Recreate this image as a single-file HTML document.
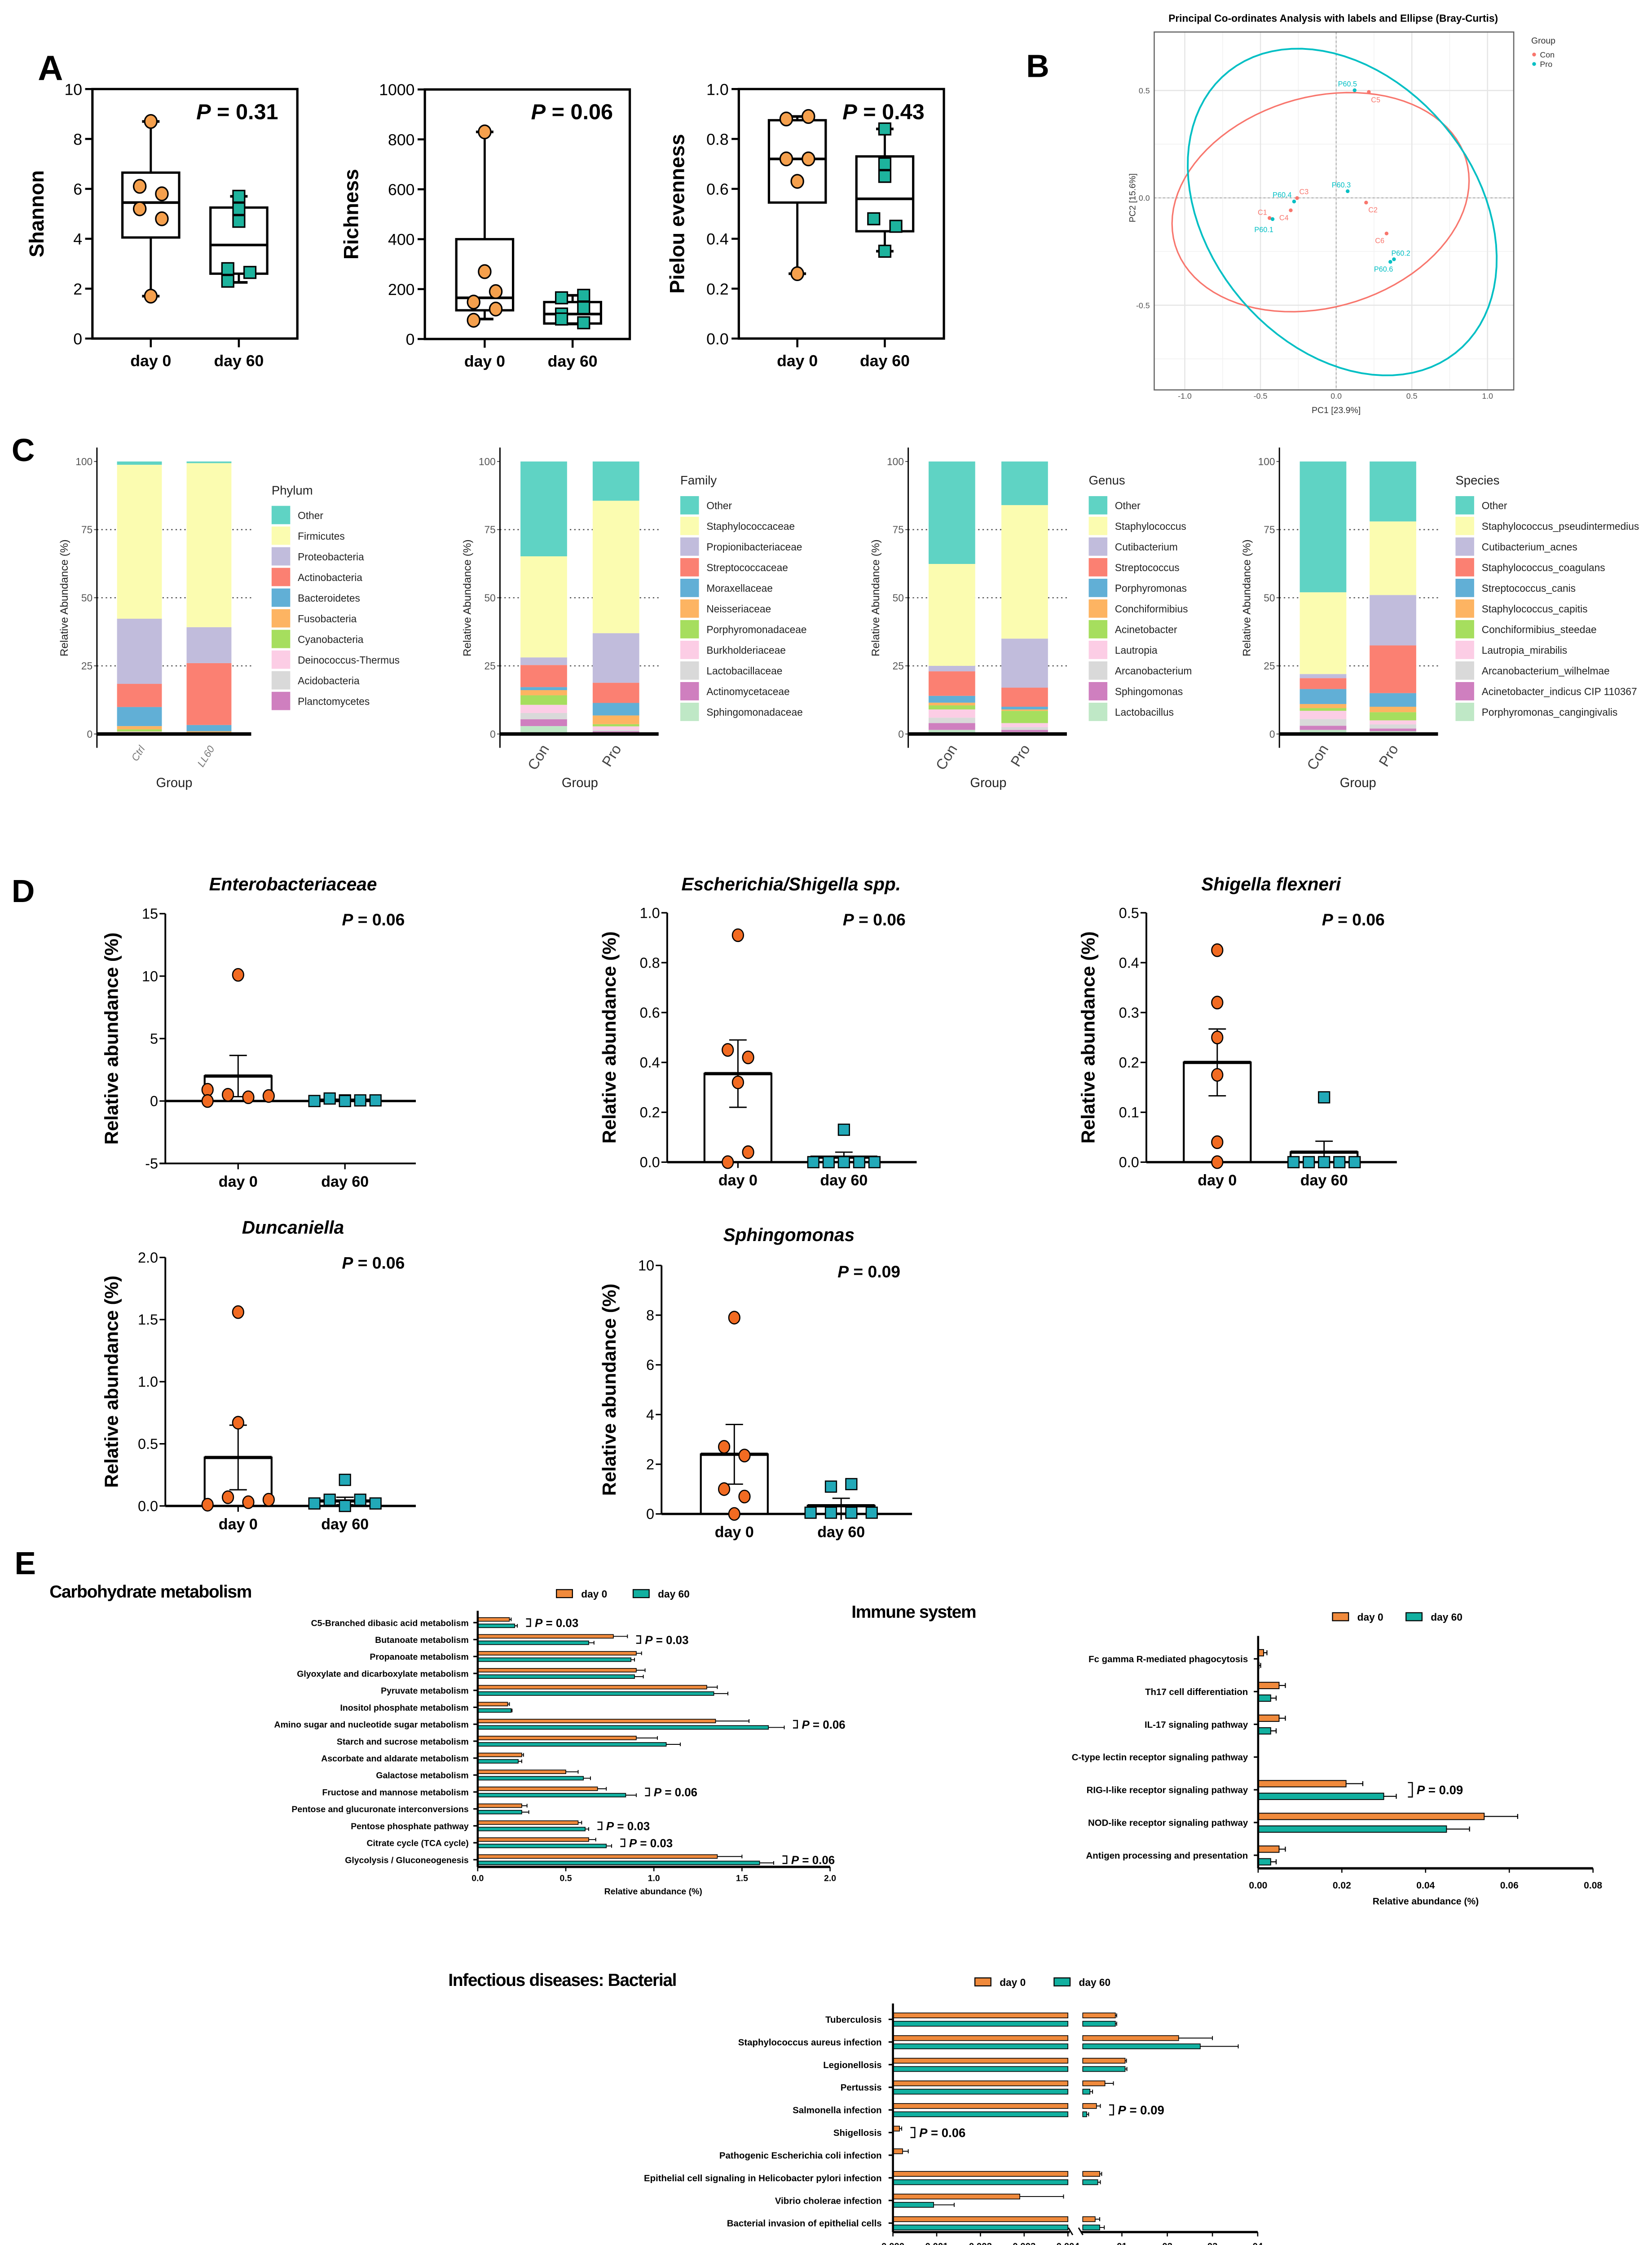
<!DOCTYPE html>
<html><head><meta charset="utf-8"><title>Microbiome figure</title>
<style>
html,body{margin:0;padding:0;background:#fff;overflow:hidden;width:3679px;height:5071px;}
svg{display:block;font-family:"Liberation Sans",Arial,sans-serif;}
</style></head>
<body>
<svg id="fig" width="3679" height="5071" viewBox="0 0 1135 1565" preserveAspectRatio="none" xmlns="http://www.w3.org/2000/svg">
<rect x="0" y="0" width="1135" height="1565" fill="#fff"/>
<text x="26" y="55" font-size="24" font-weight="bold">A</text>
<text x="705" y="53" font-size="22" font-weight="bold">B</text>
<text x="8" y="317" font-size="22" font-weight="bold">C</text>
<text x="8" y="620" font-size="22" font-weight="bold">D</text>
<text x="10" y="1082" font-size="22" font-weight="bold">E</text>
</svg>
<script>
// ===== Panel A data =====
const groupLabels=['day 0','day 60'];
const shannonDay0=[8.7,6.1,5.8,5.2,4.8,1.7];
const shannonDay60=[5.7,5.2,4.7,2.8,2.65,2.3];
const shannonBox0=[1.7,4.05,5.45,6.65,8.7];
const shannonBox60=[2.25,2.6,3.75,5.25,5.7];
const shannonTicks=[0,2,4,6,8,10];
const richnessDay0=[830,270,190,148,120,75];
const richnessDay60=[175,165,125,100,80,65];
const richnessBox0=[80,115,165,400,830];
const richnessBox60=[60,62,100,148,175];
const richnessTicks=[0,200,400,600,800,1000];
const pielouDay0=[0.89,0.88,0.72,0.72,0.63,0.26];
const pielouDay60=[0.84,0.70,0.65,0.48,0.45,0.35];
const pielouBox0=[0.26,0.545,0.72,0.875,0.89];
const pielouBox60=[0.35,0.43,0.56,0.73,0.84];
const pielouTicks=[0,0.2,0.4,0.6,0.8,1.0];
const pValuesA=['0.31','0.06','0.43'];
// ===== Panel B data =====
const conLabels=['C1','C2','C3','C4','C5','C6'];
const conPC1=[-0.44,0.198,-0.258,-0.30,0.216,0.333];
const conPC2=[-0.094,-0.022,-0.001,-0.058,0.493,-0.166];
const proLabels=['P60.1','P60.2','P60.3','P60.4','P60.5','P60.6'];
const proPC1=[-0.42,0.382,0.076,-0.278,0.122,0.358];
const proPC2=[-0.099,-0.286,0.031,-0.017,0.501,-0.298];
const conEllipse=[-0.103,-0.02,0.988,0.497,7.8];
const proEllipse=[0.04,-0.066,1.064,0.699,-22];
const pcoaTicks=[-1.0,-0.5,0.0,0.5,1.0];
// ===== Panel C data =====
const phylumNames=['Other','Firmicutes','Proteobacteria','Actinobacteria','Bacteroidetes','Fusobacteria','Cyanobacteria','Deinococcus-Thermus','Acidobacteria','Planctomycetes'];
const phylumCtrl=[1.2,56.5,23.9,8.5,7.0,1.2,0.8,0.4,0.2,0.3];
const phylumLL60=[0.6,60.2,13.2,22.7,2.3,0.4,0.2,0.1,0.1,0.2];
const familyNames=['Other','Staphylococcaceae','Propionibacteriaceae','Streptococcaceae','Moraxellaceae','Neisseriaceae','Porphyromonadaceae','Burkholderiaceae','Lactobacillaceae','Actinomycetaceae','Sphingomonadaceae'];
const familyCon=[34.8,37.1,2.8,8.1,1.1,1.9,3.5,3.0,2.3,2.5,2.9];
const familyPro=[14.4,48.6,18.2,7.4,4.6,3.2,0.8,1.3,0.5,0.8,0.2];
const genusNames=['Other','Staphylococcus','Cutibacterium','Streptococcus','Porphyromonas','Conchiformibius','Acinetobacter','Lautropia','Arcanobacterium','Sphingomonas','Lactobacillus'];
const genusCon=[37.6,37.4,2,9,2.5,1,1.5,3,2,2.5,1.5];
const genusPro=[16,49,18,7,1,0.5,4.5,1.5,1,0.8,0.7];
const speciesNames=['Other','Staphylococcus_pseudintermedius','Cutibacterium_acnes','Staphylococcus_coagulans','Streptococcus_canis','Staphylococcus_capitis','Conchiformibius_steedae','Lautropia_mirabilis','Arcanobacterium_wilhelmae','Acinetobacter_indicus CIP 110367','Porphyromonas_cangingivalis'];
const speciesCon=[48,30,1.5,4,5.5,1.5,1,3,2.5,1.5,1.5];
const speciesPro=[22,27,18.5,17.5,5,2,3,1.5,1.5,1,1];
const stackTicks=[0,25,50,75,100];
// ===== Panel D data =====
const enteroDay0=[10.1,0.9,0.5,0.3,0.4,0.0];
const enteroDay60=[0.0,0.2,0.05,0.05,0.05,0.0];
const enteroMean=[2.0,0.07];
const enteroSem=[1.65,0.04];
const escheDay0=[0.91,0.45,0.42,0.32,0.04,0.0];
const escheDay60=[0.13,0,0,0,0,0];
const escheMean=[0.355,0.02];
const escheSem=[0.135,0.02];
const shigDay0=[0.425,0.32,0.25,0.175,0.04,0.0];
const shigDay60=[0.13,0,0,0,0,0];
const shigMean=[0.2,0.02];
const shigSem=[0.067,0.022];
const duncDay0=[1.56,0.67,0.01,0.07,0.03,0.05];
const duncDay60=[0.21,0.02,0.05,0.0,0.05,0.02];
const duncMean=[0.39,0.04];
const duncSem=[0.26,0.03];
const sphDay0=[7.9,2.7,2.35,1.0,0.7,0.0];
const sphDay60=[1.1,1.2,0.05,0.05,0.05,0.05];
const sphMean=[2.4,0.33];
const sphSem=[1.2,0.3];
// ===== Panel E data =====
const carbNames=['C5-Branched dibasic acid metabolism','Butanoate metabolism','Propanoate metabolism','Glyoxylate and dicarboxylate metabolism','Pyruvate metabolism','Inositol phosphate metabolism','Amino sugar and nucleotide sugar metabolism','Starch and sucrose metabolism','Ascorbate and aldarate metabolism','Galactose metabolism','Fructose and mannose metabolism','Pentose and glucuronate interconversions','Pentose phosphate pathway','Citrate cycle (TCA cycle)','Glycolysis / Gluconeogenesis'];
const carbDay0=[0.18,0.77,0.90,0.90,1.30,0.17,1.35,0.90,0.25,0.50,0.68,0.25,0.57,0.63,1.36];
const carbDay0Err=[0.01,0.08,0.03,0.05,0.06,0.01,0.19,0.12,0.01,0.07,0.05,0.03,0.02,0.04,0.14];
const carbDay60=[0.21,0.63,0.87,0.89,1.34,0.19,1.65,1.07,0.23,0.60,0.84,0.25,0.61,0.73,1.60];
const carbDay60Err=[0.015,0.03,0.02,0.05,0.08,0.005,0.09,0.08,0.02,0.04,0.06,0.04,0.02,0.03,0.08];
const carbPRows=[0,1,6,10,12,13,14];
const carbPVals=['0.03','0.03','0.06','0.06','0.03','0.03','0.06'];
const carbTicks=[0,0.5,1.0,1.5,2.0];
const immNames=['Fc gamma R-mediated phagocytosis','Th17 cell differentiation','IL-17 signaling pathway','C-type lectin receptor signaling pathway','RIG-I-like receptor signaling pathway','NOD-like receptor signaling pathway','Antigen processing and presentation'];
const immDay0=[0.0013,0.005,0.005,0,0.021,0.054,0.005];
const immDay0Err=[0.0008,0.0015,0.0015,0,0.004,0.008,0.0015];
const immDay60=[0.0002,0.003,0.003,0,0.030,0.045,0.003];
const immDay60Err=[0.0004,0.0013,0.0013,0,0.003,0.0055,0.0013];
const immPRows=[4];
const immPVals=['0.09'];
const immTicks=[0,0.02,0.04,0.06,0.08];
const infNames=['Tuberculosis','Staphylococcus aureus infection','Legionellosis','Pertussis','Salmonella infection','Shigellosis','Pathogenic Escherichia coli infection','Epithelial cell signaling in Helicobacter pylori infection','Vibrio cholerae infection','Bacterial invasion of epithelial cells'];
const infDay0=[0.0090,0.0225,0.0107,0.0074,0.0061,0.00015,0.00022,0.0066,0.0029,0.0059];
const infDay0Err=[0.0002,0.0075,0.0003,0.0013,0.0006,0.00005,0.00013,0.0003,0.001,0.0007];
const infDay60=[0.0090,0.0273,0.0107,0.0051,0.0046,0,0,0.0063,0.00093,0.0066];
const infDay60Err=[0.0002,0.0084,0.0004,0.0004,0.0003,0,0,0.0004,0.00047,0.0007];
const infPRows=[4,5];
const infPVals=['0.09','0.06'];
const infTicksLeft=[0,0.001,0.002,0.003,0.004];
const infTicksRight=[0.01,0.02,0.03,0.04];
const infTickRightLabels=['01','02','03','04'];

const NS='http://www.w3.org/2000/svg';
const svg=document.getElementById('fig');
function mk(tag,attrs,parent){const e=document.createElementNS(NS,tag);for(const k in attrs)e.setAttribute(k,attrs[k]);(parent||svg).appendChild(e);return e;}
function tx(str,x,y,attrs,parent){const e=mk('text',Object.assign({x:x,y:y},attrs),parent);e.textContent=str;return e;}
function pLab(val,x,y,size,anchor,parent){const t=mk('text',{x:x,y:y,'font-size':size,'font-weight':'bold','text-anchor':anchor},parent);const a=mk('tspan',{'font-style':'italic'},t);a.textContent='P';const b=mk('tspan',{},t);b.textContent=' = '+val;return t;}
const ORA='#f5a04d', TEALA='#1db39d', ORD='#f26b22', TEALD='#22a9b8', ORE='#f08a3c', TEALE='#12b0a0';

// ===== Panel A =====
function boxPanel(c,d0,d60,b0,b60,j0,j60,ticks,dec,pval){
  const g=mk('g',{});
  
  
  const y=v=>c.bot-(v/c.max)*(c.bot-c.top);
  const fr=mk('path',{d:`M${c.ax} ${c.top}H${c.right}V${c.bot}H${c.ax}Z`,fill:'none',stroke:'#000','stroke-width':1.6},g);
  
  
  ticks.forEach(t=>{
    const l=mk('line',{x1:c.ax-5,x2:c.ax,y1:y(t),y2:y(t),stroke:'#000','stroke-width':1.4},g);
    
    
    const lb=tx(t.toFixed(dec),c.ax-7,y(t)+4,{'font-size':11,'text-anchor':'end'},g);
    
    
  });
  [[c.x0,b0,d0,j0,0],[c.x1,b60,d60,j60,1]].forEach(([x,b,pts,jit,k])=>{
    const tk=mk('line',{x1:x,x2:x,y1:c.bot,y2:c.bot+6,stroke:'#000','stroke-width':1.4},g);
    
    
    const xl=tx(groupLabels[k],x,c.bot+19,{'font-size':11,'font-weight':'bold','text-anchor':'middle'},g);
    
    
    const wh=mk('line',{x1:x,x2:x,y1:y(b[0]),y2:y(b[4]),stroke:'#000','stroke-width':1.5},g);
    
    
    [b[0],b[4]].forEach(v=>{
      const cp=mk('line',{x1:x-6,x2:x+6,y1:y(v),y2:y(v),stroke:'#000','stroke-width':1.8},g);
      
      
    });
    const bx=mk('rect',{x:x-19.5,y:y(b[3]),width:39,height:y(b[1])-y(b[3]),fill:'#fff',stroke:'#000','stroke-width':1.6},g);
    
    
    const md=mk('line',{x1:x-19.5,x2:x+19.5,y1:y(b[2]),y2:y(b[2]),stroke:'#000','stroke-width':1.8},g);
    
    
    pts.forEach((v,i)=>{
      const px=x+jit[i]*7.6;
      if(k===0){
        const p=mk('ellipse',{cx:px,cy:y(v),rx:4.2,ry:4.6,fill:ORA,stroke:'#000','stroke-width':1},g);
        
        
      } else {
        const p=mk('rect',{x:px-4,y:y(v)-4,width:8,height:8,fill:TEALA,stroke:'#000','stroke-width':1},g);
        
        
      }
    });
  });
  const yl=tx(c.ylabel,0,0,{'font-size':14,'font-weight':'bold','text-anchor':'middle',transform:`translate(${c.ylx},${(c.top+c.bot)/2}) rotate(-90)`},g);
  
  
  const pl=pLab(pval,c.px,82,15,'middle',g);
  
  
}
boxPanel({name:'shannon-boxplot',ax:63.5,right:204.3,top:61.2,bot:232.7,max:10,x0:103.6,x1:164.1,ylabel:'Shannon',ylx:30,px:163},shannonDay0,shannonDay60,shannonBox0,shannonBox60,[0,-1,1,-1,1,0],[0,0,0,-1,1,-1],shannonTicks,0,pValuesA[0]);
boxPanel({name:'richness-boxplot',ax:291.9,right:432.7,top:61.5,bot:233,max:1000,x0:333,x1:393.4,ylabel:'Richness',ylx:246,px:393},richnessDay0,richnessDay60,richnessBox0,richnessBox60,[0,0,1,-1,1,-1],[1,-1,1,-1,-1,1],richnessTicks,0,pValuesA[1]);
boxPanel({name:'pielou-boxplot',ax:507.6,right:648.5,top:61.2,bot:232.7,max:1,x0:547.8,x1:607.9,ylabel:'Pielou evenness',ylx:470,px:607},pielouDay0,pielouDay60,pielouBox0,pielouBox60,[1,-1,-1,1,0,0],[0,0,0,-1,1,0],pielouTicks,1,pValuesA[2]);

// ===== Panel B =====
(function(){
  const g=mk('g',{});
  
  
  const bx=v=>918+v*104, by=v=>136-v*147.6;
  const t=tx('Principal Co-ordinates Analysis with labels and Ellipse (Bray-Curtis)',916,15,{'font-size':7,'font-weight':'bold','text-anchor':'middle'},g);
  
  
  [-0.75,-0.25,0.25,0.75].forEach(v=>{
    const l=mk('line',{x1:bx(v),x2:bx(v),y1:22,y2:268,stroke:'#f2f2f2','stroke-width':0.5},g);
    
    
  });
  [-0.75,-0.25,0.25].forEach(v=>{
    const l=mk('line',{x1:793,x2:1040,y1:by(v),y2:by(v),stroke:'#f2f2f2','stroke-width':0.5},g);
    
    
  });
  pcoaTicks.forEach(v=>{
    const l=mk('line',{x1:bx(v),x2:bx(v),y1:22,y2:268,stroke:'#e6e6e6','stroke-width':0.8},g);
    
    
    const lb=tx(v.toFixed(1),bx(v),274,{'font-size':5.5,fill:'#555','text-anchor':'middle'},g);
    
    
  });
  [-0.5,0,0.5].forEach(v=>{
    const l=mk('line',{x1:793,x2:1040,y1:by(v),y2:by(v),stroke:'#e6e6e6','stroke-width':0.8},g);
    
    
    const lb=tx(v.toFixed(1),790,by(v)+2,{'font-size':5.5,fill:'#555','text-anchor':'end'},g);
    
    
  });
  const z1=mk('line',{x1:bx(0),x2:bx(0),y1:22,y2:268,stroke:'#aaa','stroke-width':0.6,'stroke-dasharray':'1.5,1.5'},g);
  
  
  const z2=mk('line',{x1:793,x2:1040,y1:by(0),y2:by(0),stroke:'#aaa','stroke-width':0.6,'stroke-dasharray':'1.5,1.5'},g);
  
  
  const fr=mk('rect',{x:793,y:22,width:247,height:246,fill:'none',stroke:'#666','stroke-width':0.8},g);
  
  
  function ell(p){const [cx,cy,a,b,deg]=p;const th=deg*Math.PI/180;let d='';for(let i=0;i<=90;i++){const t=i/90*2*Math.PI;const ex=a*Math.cos(t),ey=b*Math.sin(t);const X=cx+ex*Math.cos(th)-ey*Math.sin(th);const Y=cy+ex*Math.sin(th)+ey*Math.cos(th);d+=(i?'L':'M')+bx(X).toFixed(2)+' '+by(Y).toFixed(2);}return d+'Z';}
  const e1=mk('path',{d:ell(conEllipse),fill:'none',stroke:'#f8766d','stroke-width':1},g);
  
  
  const e2=mk('path',{d:ell(proEllipse),fill:'none',stroke:'#00bfc4','stroke-width':1.2},g);
  
  
  const conOff=[[-4.9,-4.2],[4.7,4.8],[4.7,-4.6],[-4.7,4.8],[4.7,5.1],[-4.7,4.6]];
  const proOff=[[-6,7],[4.7,-4.4],[-4.4,-4.6],[-8.2,-4.8],[-4.9,-4.6],[-4.7,4.8]];
  conPC1.forEach((v,i)=>{
    const p=mk('circle',{cx:bx(v),cy:by(conPC2[i]),r:1.3,fill:'#f8766d'},g);
    
    
    const l=tx(conLabels[i],bx(v)+conOff[i][0],by(conPC2[i])+conOff[i][1]+2,{'font-size':5,fill:'#f8766d','text-anchor':'middle'},g);
    
    
  });
  proPC1.forEach((v,i)=>{
    const p=mk('circle',{cx:bx(v),cy:by(proPC2[i]),r:1.3,fill:'#00bfc4'},g);
    
    
    const l=tx(proLabels[i],bx(v)+proOff[i][0],by(proPC2[i])+proOff[i][1]+2,{'font-size':5,fill:'#00bfc4','text-anchor':'middle'},g);
    
    
  });
  const xt=tx('PC1  [23.9%]',918,284,{'font-size':6,fill:'#333','text-anchor':'middle'},g);
  
  
  const yt=tx('PC2  [15.6%]',0,0,{'font-size':6,fill:'#333','text-anchor':'middle',transform:'translate(780,136) rotate(-90)'},g);
  
  
  const lg=tx('Group',1052,30,{'font-size':6,fill:'#333'},g);
  
  
  [['Con','#f8766d',37.5],['Pro','#00bfc4',44]].forEach(([n,c,yy])=>{
    const d=mk('circle',{cx:1054,cy:yy,r:1.3,fill:c},g);
    
    
    const l=tx(n,1058,yy+2,{'font-size':5.5,fill:'#333'},g);
    
    
  });
})();

// ===== Panel C =====
const stackColors=['#5fd3c4','#fbfcb0','#c1bcdc','#fb8072','#61afd6','#fdb462','#a6de5e','#fccde5','#d9d9d9','#cf7fbf','#bfe8c6'];
function stackPanel(c,names,v0,v1,xl){
  const g=mk('g',{});
  
  
  const y0=504.5,y100=317.2;
  const y=v=>y0-(v/100)*(y0-y100);
  [25,50,75].forEach(v=>{
    const l=mk('line',{x1:c.ax,x2:c.ax+c.w,y1:y(v),y2:y(v),stroke:'#555','stroke-width':0.8,'stroke-dasharray':'1,2'},g);
    
    
  });
  stackTicks.forEach(v=>{
    const l=mk('line',{x1:c.ax-2,x2:c.ax,y1:y(v),y2:y(v),stroke:'#444','stroke-width':0.6},g);
    
    
    const lb=tx(String(v),c.ax-3,y(v)+2.5,{'font-size':7,fill:'#555','text-anchor':'end'},g);
    
    
  });
  [[c.b0,v0],[c.b1,v1]].forEach(([bx,vals],k)=>{
    let cum=0;
    for(let i=vals.length-1;i>=0;i--){
      const r=mk('rect',{x:bx,y:y(cum+vals[i]),width:c.bw,height:y(cum)-y(cum+vals[i]),fill:stackColors[i]},g);
      
      
      cum+=vals[i];
    }
    const t=tx(xl[k],0,0,{'font-size':c.xfs,fill:c.xfill,'font-style':c.xstyle,'text-anchor':'end',transform:`translate(${bx+c.bw/2+4},${y0+10}) rotate(-58)`},g);
    
    
  });
  const ya=mk('line',{x1:c.ax,x2:c.ax,y1:307.6,y2:514,stroke:'#000','stroke-width':0.9},g);
  
  
  const xa=mk('line',{x1:c.ax,x2:c.ax+c.w,y1:y0,y2:y0,stroke:'#000','stroke-width':2.4},g);
  
  
  const yt=tx('Relative Abundance (%)',0,0,{'font-size':7.5,fill:'#222','text-anchor':'middle',transform:`translate(${c.ax-20},411) rotate(-90)`},g);
  
  
  const gt=tx('Group',(c.b0+c.b1+c.bw)/2,541,{'font-size':9,fill:'#222','text-anchor':'middle'},g);
  
  
  const lt=tx(c.title,c.lx,c.ly,{'font-size':8.5,fill:'#222'},g);
  
  
  names.forEach((n,i)=>{
    const ky=c.ky+i*14.2;
    const r=mk('rect',{x:c.lx,y:ky,width:12.8,height:12.6,fill:stackColors[i]},g);
    
    
    const l=tx(n,c.lx+18,ky+9,{'font-size':7,fill:'#222'},g);
    
    
  });
}
stackPanel({name:'phylum-stacked-bar',ax:66.6,w:106,b0:80.4,b1:128.2,bw:30.8,lx:186.6,ly:340,ky:347.7,title:'Phylum',xfs:7,xfill:'#777',xstyle:'italic'},phylumNames,phylumCtrl,phylumLL60,['Ctrl','LL60']);
stackPanel({name:'family-stacked-bar',ax:343.5,w:109,b0:357.6,b1:407.2,bw:32,lx:467.4,ly:333,ky:341,title:'Family',xfs:10,xfill:'#444',xstyle:'normal'},familyNames,familyCon,familyPro,['Con','Pro']);
stackPanel({name:'genus-stacked-bar',ax:624,w:109,b0:638,b1:688,bw:32,lx:748,ly:333,ky:341,title:'Genus',xfs:10,xfill:'#444',xstyle:'normal'},genusNames,genusCon,genusPro,['Con','Pro']);
stackPanel({name:'species-stacked-bar',ax:879,w:109,b0:893,b1:941,bw:32,lx:1000,ly:333,ky:341,title:'Species',xfs:10,xfill:'#444',xstyle:'normal'},speciesNames,speciesCon,speciesPro,['Con','Pro']);

// ===== Panel D =====
function dotPanel(c,d0,d60,mean,sem,j0,j60,ticks,dec){
  const g=mk('g',{});
  
  
  const y=v=>c.bot-((v-c.min)/(c.max-c.min))*(c.bot-c.top);
  const ya=mk('line',{x1:c.ax,x2:c.ax,y1:c.top,y2:c.bot,stroke:'#000','stroke-width':1.2},g);
  
  
  ticks.forEach(t=>{
    const l=mk('line',{x1:c.ax-4,x2:c.ax,y1:y(t),y2:y(t),stroke:'#000','stroke-width':1},g);
    
    
    const lb=tx(t.toFixed(dec),c.ax-5,y(t)+3.5,{'font-size':10,'text-anchor':'end'},g);
    
    
  });
  if(c.min<0){
    const bl=mk('line',{x1:c.ax-4,x2:c.xend,y1:c.bot,y2:c.bot,stroke:'#000','stroke-width':1.2},g);
    
    
  }
  const xs=[c.x0,c.x1];
  xs.forEach((x,k)=>{
    const bt=y(Math.max(mean[k],0));
    const r=mk('rect',{x:x-23,y:bt,width:46,height:y(0)-bt,fill:'#fff',stroke:'#000','stroke-width':1.3},g);
    
    
    const tl=mk('line',{x1:x-23,x2:x+23,y1:bt,y2:bt,stroke:'#000','stroke-width':2.2},g);
    
    
    const eb=mk('line',{x1:x,x2:x,y1:y(mean[k]+sem[k]),y2:y(Math.max(mean[k]-sem[k],0)),stroke:'#000','stroke-width':0.9},g);
    
    
    [mean[k]+sem[k],Math.max(mean[k]-sem[k],0)].forEach(v=>{
      const cp=mk('line',{x1:x-6,x2:x+6,y1:y(v),y2:y(v),stroke:'#000','stroke-width':0.9},g);
      
      
    });
    const tk=mk('line',{x1:x,x2:x,y1:c.bot,y2:c.bot+4,stroke:'#000','stroke-width':1},g);
    
    
    const xl=tx(groupLabels[k],x,c.bot+16,{'font-size':10.5,'font-weight':'bold','text-anchor':'middle'},g);
    
    
  });
  const xa=mk('line',{x1:c.ax,x2:c.xend,y1:y(0),y2:y(0),stroke:'#000','stroke-width':1.6},g);
  
  
  d0.forEach((v,i)=>{
    const p=mk('ellipse',{cx:c.x0+j0[i],cy:y(v),rx:3.8,ry:4.3,fill:ORD,stroke:'#000','stroke-width':0.8},g);
    
    
  });
  d60.forEach((v,i)=>{
    const p=mk('rect',{x:c.x1+j60[i]-3.8,y:y(v)-3.8,width:7.6,height:7.6,fill:TEALD,stroke:'#000','stroke-width':0.8},g);
    
    
  });
  const t=tx(c.title,c.tx,c.ty,{'font-size':12.5,'font-weight':'bold','font-style':'italic','text-anchor':'middle'},g);
  
  
  const pl=pLab(c.p,c.px,c.py,11.5,'middle',g);
  
  
  const yt=tx('Relative abundance (%)',0,0,{'font-size':13,'font-weight':'bold','text-anchor':'middle',transform:`translate(${c.ylx},${(c.top+c.bot)/2}) rotate(-90)`},g);
  
  
}
dotPanel({name:'enterobacteriaceae-chart',ax:113.6,xend:285.7,top:628,bot:799.7,min:-5,max:15,x0:163.6,x1:237,title:'Enterobacteriaceae',tx:201.3,ty:612,p:'0.06',px:256.5,py:636,ylx:81},enteroDay0,enteroDay60,enteroMean,enteroSem,[0,-21,-7,7,21,-21],[-21,-10.5,0,10.5,21,0],[-5,0,5,10,15],0);
dotPanel({name:'escherichia-shigella-chart',ax:458.4,xend:629.8,top:627.4,bot:798.8,min:0,max:1,x0:507,x1:579.8,title:'Escherichia/Shigella spp.',tx:543.5,ty:612,p:'0.06',px:600.6,py:636,ylx:423},escheDay0,escheDay60,escheMean,escheSem,[0,-7,7,0,7,-7],[0,-21,-10.5,0,10.5,21],[0,0.2,0.4,0.6,0.8,1.0],1);
dotPanel({name:'shigella-flexneri-chart',ax:787.6,xend:959.7,top:627.4,bot:798.8,min:0,max:0.5,x0:836.3,x1:909.7,title:'Shigella flexneri',tx:873.3,ty:612,p:'0.06',px:929.8,py:636,ylx:752},shigDay0,shigDay60,shigMean,shigSem,[0,0,0,0,0,0],[0,-21,-10.5,0,10.5,21],[0,0.1,0.2,0.3,0.4,0.5],1);
dotPanel({name:'duncaniella-chart',ax:113.6,xend:285.7,top:864.3,bot:1035.1,min:0,max:2,x0:163.6,x1:237,title:'Duncaniella',tx:201.3,ty:848,p:'0.06',px:256.5,py:872,ylx:81},duncDay0,duncDay60,duncMean,duncSem,[0,0,-21,-7,7,21],[0,-21,-10.5,0,10.5,21],[0,0.5,1.0,1.5,2.0],1);
dotPanel({name:'sphingomonas-chart',ax:454.5,xend:626.6,top:869.8,bot:1040.6,min:0,max:10,x0:504.5,x1:577.9,title:'Sphingomonas',tx:542,ty:853,p:'0.09',px:597,py:878,ylx:423},sphDay0,sphDay60,sphMean,sphSem,[0,-7,7,-7,7,0],[-7,7,-21,-7,7,21],[0,2,4,6,8,10],0);

// ===== Panel E =====
function legendE(x0,x1,yy,g){
  [[x0,ORE,'day 0'],[x1,TEALE,'day 60']].forEach(([x,c,n])=>{
    const r=mk('rect',{x:x,y:yy-3,width:11,height:5.5,fill:c,stroke:'#000','stroke-width':0.7},g);
    
    
    const l=tx(n,x+17,yy+2.5,{'font-size':7,'font-weight':'bold'},g);
    
    
  });
}
function hbarPanel(c,names,a,ae,b,be,prow,pval,xf,drawBar){
  const g=mk('g',{});
  
  
  const row=i=>c.r0+i*c.dr;
  names.forEach((n,i)=>{
    const l=tx(n,c.lab,row(i)+2.3,{'font-size':c.fs,'font-weight':'bold','text-anchor':'end'},g);
    
    
    const tk=mk('line',{x1:c.ax-3,x2:c.ax,y1:row(i),y2:row(i),stroke:'#000','stroke-width':1},g);
    
    
    [[a[i],ae[i],ORE,c.oo,'day0'],[b[i],be[i],TEALE,c.to,'day60']].forEach(([v,e,col,off,nm])=>{
      drawBar(g,v,e,col,row(i)+off-c.bh/2,c.bh,nm);
    });
  });
  prow.forEach((ri,k)=>{
    const mx=Math.max(a[ri]+ae[ri],b[ri]+be[ri]);
    const bx0=xf(mx)+c.pgap, yy=row(ri);
    const br=mk('path',{d:`M${bx0} ${yy-c.dr*0.22}H${bx0+3}V${yy+c.dr*0.22}H${bx0}`,fill:'none',stroke:'#000','stroke-width':0.8},g);
    
    
    const pl=pLab(pval[k],bx0+6,yy+3,c.pfs,'start',g);
    
    
  });
  const ya=mk('line',{x1:c.ax,x2:c.ax,y1:c.r0-c.dr*0.7,y2:c.axY,stroke:'#000','stroke-width':1.4},g);
  
  
  return g;
}
// Carbohydrate
(function(){
  const xf=v=>328.2+v*121.05;
  const c={name:'carbohydrate-metabolism-chart',ax:328.2,axY:1283.2,r0:1115.3,dr:11.64,lab:322,fs:6,oo:-2.2,to:2.2,bh:2.5,pgap:6,pfs:8};
  const bar=(g,v,e,col,yy,h,nm)=>{
    const r=mk('rect',{x:xf(0),y:yy,width:xf(v)-xf(0),height:h,fill:col,stroke:'#000','stroke-width':0.5},g);
    
    
    const eb=mk('path',{d:`M${xf(v)} ${yy+h/2}H${xf(v+e)}M${xf(v+e)} ${yy}V${yy+h}`,stroke:'#000','stroke-width':0.6,fill:'none'},g);
    
    
  };
  const g=hbarPanel(c,carbNames,carbDay0,carbDay0Err,carbDay60,carbDay60Err,carbPRows,carbPVals,xf,bar);
  const xa=mk('line',{x1:xf(0),x2:xf(2),y1:c.axY,y2:c.axY,stroke:'#000','stroke-width':1.6},g);
  
  
  carbTicks.forEach(t=>{
    const l=mk('line',{x1:xf(t),x2:xf(t),y1:c.axY,y2:c.axY+3,stroke:'#000','stroke-width':0.8},g);
    
    
    const lb=tx(t.toFixed(1),xf(t),1293,{'font-size':6,'font-weight':'bold','text-anchor':'middle'},g);
    
    
  });
  const xt=tx('Relative abundance (%)',448.8,1302,{'font-size':6,'font-weight':'bold','text-anchor':'middle'},g);
  
  
  const tt=tx('Carbohydrate metabolism',34,1098,{'font-size':12,'font-weight':'bold','letter-spacing':'-0.4'},g);
  
  
  legendE(382.3,435,1095.6,g);
})();
// Immune
(function(){
  const xf=v=>864.4+v*2876;
  const c={name:'immune-system-chart',ax:864.4,axY:1284.2,r0:1140.2,dr:22.5,lab:857.4,fs:6.3,oo:-4.2,to:4.5,bh:4.4,pgap:8,pfs:8.5};
  const bar=(g,v,e,col,yy,h,nm)=>{
    if(v<=0)return;
    const r=mk('rect',{x:xf(0),y:yy,width:xf(v)-xf(0),height:h,fill:col,stroke:'#000','stroke-width':0.6},g);
    
    
    const eb=mk('path',{d:`M${xf(v)} ${yy+h/2}H${xf(v+e)}M${xf(v+e)} ${yy+0.5}V${yy+h-0.5}`,stroke:'#000','stroke-width':0.7,fill:'none'},g);
    
    
  };
  const g=hbarPanel(c,immNames,immDay0,immDay0Err,immDay60,immDay60Err,immPRows,immPVals,xf,bar);
  const xa=mk('line',{x1:xf(0),x2:xf(0.08),y1:c.axY,y2:c.axY,stroke:'#000','stroke-width':1.6},g);
  
  
  immTicks.forEach(t=>{
    const l=mk('line',{x1:xf(t),x2:xf(t),y1:c.axY,y2:c.axY+3,stroke:'#000','stroke-width':0.8},g);
    
    
    const lb=tx(t.toFixed(2),xf(t),1298,{'font-size':6.5,'font-weight':'bold','text-anchor':'middle'},g);
    
    
  });
  const xt=tx('Relative abundance (%)',979.5,1309,{'font-size':6.5,'font-weight':'bold','text-anchor':'middle'},g);
  
  
  const tt=tx('Immune system',585,1112,{'font-size':12,'font-weight':'bold','letter-spacing':'-0.4'},g);
  
  
  legendE(915.5,966,1111.5,g);
})();
// Infectious
(function(){
  const xl=v=>613.5+v*30050;
  const knotV=[0.004,0.01,0.02,0.03,0.04];
  const knotX=[743.9,770.8,802,833,864.1];
  const xr=v=>{
    if(v<=knotV[0])return knotX[0];
    for(let i=1;i<knotV.length;i++){if(v<=knotV[i]||i===knotV.length-1){const f=(v-knotV[i-1])/(knotV[i]-knotV[i-1]);return knotX[i-1]+f*(knotX[i]-knotX[i-1]);}}
  };
  const RS=743.9, LE=733.7;
  const xf=v=>v>0.004?xr(v):xl(v);
  const c={name:'infectious-diseases-chart',ax:613.5,axY:1534.2,r0:1388,dr:15.56,lab:605.8,fs:6.3,oo:-2.7,to:3.0,bh:3.4,pgap:6,pfs:8.5};
  const bar=(g,v,e,col,yy,h,nm)=>{
    if(v<=0)return;
    if(v<=0.004){
      const r=mk('rect',{x:xl(0),y:yy,width:xl(v)-xl(0),height:h,fill:col,stroke:'#000','stroke-width':0.5},g);
      
      
      const xe=Math.min(xl(v+e),LE);
      const eb=mk('path',{d:`M${xl(v)} ${yy+h/2}H${xe}M${xe} ${yy+0.3}V${yy+h-0.3}`,stroke:'#000','stroke-width':0.6,fill:'none'},g);
      
      
    } else {
      const r1=mk('rect',{x:xl(0),y:yy,width:LE-xl(0),height:h,fill:col,stroke:'#000','stroke-width':0.5},g);
      
      
      const xe=Math.max(xr(v),RS+1);
      const r2=mk('rect',{x:RS,y:yy,width:xe-RS,height:h,fill:col,stroke:'#000','stroke-width':0.5},g);
      
      
      const xee=Math.max(xr(v+e),xe+0.8);
      const eb=mk('path',{d:`M${xe} ${yy+h/2}H${xee}M${xee} ${yy+0.3}V${yy+h-0.3}`,stroke:'#000','stroke-width':0.6,fill:'none'},g);
      
      
    }
  };
  const g=hbarPanel(c,infNames,infDay0,infDay0Err,infDay60,infDay60Err,infPRows,infPVals,xf,bar);
  const xa1=mk('line',{x1:xl(0),x2:735,y1:c.axY,y2:c.axY,stroke:'#000','stroke-width':1.6},g);
  
  
  const xa2=mk('line',{x1:742.5,x2:xr(0.04),y1:c.axY,y2:c.axY,stroke:'#000','stroke-width':1.6},g);
  
  
  const brk=mk('path',{d:`M734 ${c.axY-3}L737 ${c.axY+2}M741 ${c.axY-3}L744 ${c.axY+2}`,stroke:'#000','stroke-width':0.9,fill:'none'},g);
  
  
  infTicksLeft.forEach(t=>{
    const l=mk('line',{x1:xl(t),x2:xl(t),y1:c.axY,y2:c.axY+3,stroke:'#000','stroke-width':0.8},g);
    
    
    const lb=tx(t.toFixed(3),xl(t),1546,{'font-size':6.3,'font-weight':'bold','text-anchor':'middle'},g);
    
    
  });
  infTicksRight.forEach((t,i)=>{
    const l=mk('line',{x1:xr(t),x2:xr(t),y1:c.axY,y2:c.axY+3,stroke:'#000','stroke-width':0.8},g);
    
    
    const lb=tx(infTickRightLabels[i],xr(t),1546,{'font-size':6.3,'font-weight':'bold','text-anchor':'middle'},g);
    
    
  });
  const xt=tx('Relative abundance (%)',738.3,1557,{'font-size':6.5,'font-weight':'bold','text-anchor':'middle'},g);
  
  
  const tt=tx('Infectious diseases: Bacterial',308,1365,{'font-size':12,'font-weight':'bold','letter-spacing':'-0.4'},g);
  
  
  legendE(669.8,724.2,1362.5,g);
})();
</script>
</body></html>
